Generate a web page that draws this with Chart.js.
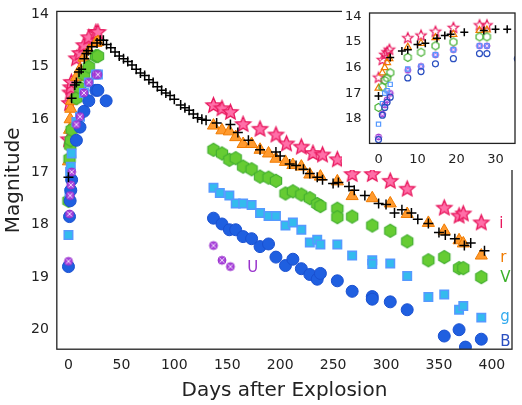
<!DOCTYPE html>
<html><head><meta charset="utf-8">
<script src="https://cdn.jsdelivr.net/npm/chart.js@4.4.1/dist/chart.umd.min.js"></script>
<style>body{margin:0;background:#fff}#w{position:relative;width:522px;height:405px}
#m{position:absolute;left:0;top:0;width:522px;height:405px}#ins{position:absolute;left:342px;top:0;width:180px;height:170px}</style></head>
<body><div id="w"><canvas id="m" width="522" height="405"></canvas><canvas id="ins" width="180" height="170"></canvas></div>
<script>
const iDays=[0,1,1.6,2.2,2.8,7.5,10.9,14.6,19.2,25.9,27.8,137,145,153,165,181,196,206,220,231,240,254,268,287,304,320,355,369,373,390];
const iMag=[16.39,15.7,15.5,15.4,15.3,14.85,14.75,14.6,14.45,14.35,14.35,15.74,15.8,15.87,16.1,16.19,16.3,16.47,16.53,16.65,16.68,16.77,17.05,17.05,17.18,17.33,17.69,17.84,17.8,17.97];
const rDays=[0,1,1.6,2.2,2.8,7.5,10.9,14.6,19.2,25.9,27.8,137,145,152,158,165,173,181,189,196,205,212,220,228,238,254,268,287,304,320,340,355,369,373,390];
const rMag=[16.8,16.2,16.0,15.8,15.65,15.2,15.05,14.83,14.7,14.55,14.53,16.12,16.21,16.23,16.34,16.47,16.47,16.58,16.65,16.75,16.81,16.87,16.9,17.05,17.09,17.18,17.46,17.5,17.6,17.8,17.97,18.12,18.3,18.36,18.59];
const vDays=[0,1,1.6,2.2,3,7.5,10.9,14.6,19.2,25.9,27.8,137,145,152,158,165,173,181,189,196,205,212,220,228,235,238,254,254,268,287,304,320,340,355,369,373,390];
const vMag=[17.55,16.75,16.5,16.4,16.2,15.6,15.4,15.15,15.0,14.8,14.8,16.58,16.65,16.77,16.74,16.9,16.95,17.09,17.11,17.17,17.41,17.37,17.43,17.5,17.61,17.65,17.7,17.86,17.85,18.02,18.12,18.32,18.68,18.62,18.83,18.83,19.0];
const gDays=[0,1,1.6,2.2,3,7.5,10.9,14.6,19.2,25.9,27.8,137,143,152,158,165,173,181,189,196,205,212,220,228,235,238,254,268,287,287,304,320,340,355,369,373,390];
const gMag=[18.2,17.4,17.0,16.9,16.65,16.05,15.95,15.5,15.3,15.15,15.15,17.3,17.4,17.45,17.6,17.6,17.63,17.78,17.84,17.84,18.02,17.96,18.1,18.34,18.29,18.38,18.38,18.59,18.68,18.75,18.74,18.98,19.38,19.33,19.62,19.55,19.77];
const bDays=[0,1,1.6,2.2,3,7.5,10.9,14.6,19.2,25.9,27.8,35.6,137,145,152,158,165,173,181,189,196,205,212,220,228,235,238,254,268,287,287,304,320,355,369,375,390];
const bMag=[18.8,17.85,17.55,17.35,17.15,16.4,16.15,15.85,15.65,15.45,15.45,15.65,17.88,17.99,18.1,18.1,18.23,18.27,18.42,18.37,18.62,18.78,18.66,18.84,18.95,19.04,18.93,19.07,19.27,19.37,19.42,19.47,19.62,20.12,20.0,20.33,20.18];
const uDays=[0,1,1.6,2.2,3,7.5,10.9,14.6,19.2,25.9,27.8,137,145,153];
const uMag=[18.7,17.8,17.45,17.25,17.0,16.1,15.95,15.5,15.3,15.15,15.15,18.4,18.68,18.8];
const cDays=[0,3,6,7.5,10,12,15,17,18.5,22,27,30,33,36,40,44,48,52,56,60,64,68,72,76,80,84,88,92,96,100,106,110,114,118,122,126,130,140,153,160,170,181,196,200,209,215,222,228,235,240,250,255,265,270,280,293,300,308,315,324,330,340,350,356,365,374,380,393];
const cMag=[17.1,15.6,15.35,15.3,15.1,15.05,14.85,14.75,14.7,14.62,14.55,14.5,14.5,14.58,14.64,14.72,14.8,14.85,14.9,14.97,15.05,15.12,15.17,15.25,15.3,15.38,15.45,15.5,15.55,15.62,15.73,15.78,15.83,15.9,15.97,16.0,16.02,16.07,16.1,16.25,16.4,16.58,16.62,16.7,16.85,16.88,16.95,17.03,17.1,17.15,17.22,17.2,17.28,17.35,17.45,17.6,17.62,17.78,17.72,17.78,17.9,17.98,18.15,18.2,18.27,18.4,18.35,18.5];
const xTicks=[0,50,100,150,200,250,300,350,400];
const yTicks=[14,15,16,17,18,19,20];
const insetXTicks=[0,10,20,30];
const insetYTicks=[14,15,16,17,18];
const bandLabels=[{t:'i',x:407,y:18.0,c:'#e8175d'},{t:'r',x:408,y:18.63,c:'#f07b00'},{t:'V',x:408,y:19.01,c:'#3cb02a'},{t:'g',x:408,y:19.76,c:'#33aaee'},{t:'B',x:408,y:20.23,c:'#2a4fc0'},{t:'U',x:169,y:18.83,c:'#9933cc'}];

function mk(shape,r,fill,stroke,lw){
  const s=Math.ceil(r*2+lw*2+2),c=document.createElement('canvas');c.width=c.height=s;
  const x=c.getContext('2d'),cx=s/2;x.beginPath();
  if(shape==='star'){for(let k=0;k<10;k++){const a=-Math.PI/2+k*Math.PI/5,rr=k%2?r*0.45:r;x.lineTo(cx+rr*Math.cos(a),cx+rr*Math.sin(a));}}
  else if(shape==='hex'){for(let k=0;k<6;k++){const a=Math.PI/2+k*Math.PI/3;x.lineTo(cx+r*Math.cos(a),cx+r*Math.sin(a));}}
  else if(shape==='u'){x.arc(cx,cx,r,0,Math.PI*2);}
  x.closePath();
  if(fill){x.fillStyle=fill;x.fill();}
  x.lineWidth=lw;x.strokeStyle=stroke;x.stroke();
  if(shape==='u'){x.strokeStyle='rgba(255,255,255,0.8)';x.lineWidth=1;x.beginPath();x.moveTo(cx-r*.6,cx-r*.6);x.lineTo(cx+r*.6,cx+r*.6);x.moveTo(cx+r*.6,cx-r*.6);x.lineTo(cx-r*.6,cx+r*.6);x.stroke();}
  return c;
}
const pts=(d,m,f)=>d.map((v,k)=>({x:v,y:m[k]})).filter(p=>f(p.x));
const boxPlugin={id:'box',afterDraw(ch){const a=ch.chartArea,x=ch.ctx;x.save();x.strokeStyle='#222';x.lineWidth=1.3;x.strokeRect(a.left,a.top,a.right-a.left,a.bottom-a.top);x.restore();}};
const labelPlugin={id:'lbl',afterDatasetsDraw(ch){const x=ch.ctx;x.save();x.font='15px "DejaVu Sans"';x.textBaseline='middle';
  bandLabels.forEach(l=>{x.fillStyle=l.c;x.fillText(l.t,ch.scales.x.getPixelForValue(l.x),ch.scales.y.getPixelForValue(l.y));});x.restore();}};

function sets(inset,f){
  const def=(lab,d,m,style,extra)=>Object.assign({label:lab,data:pts(d,m,f),pointStyle:style,showLine:false},extra);
  if(!inset) return [
    def('c',cDays,cMag,'cross',{pointRadius:5,borderColor:'#000',borderWidth:1.5}),
    def('U',uDays,uMag,mk('u',4,'#aa44dd','#9933cc',1)),
    def('B',bDays,bMag,'circle',{pointRadius:6,backgroundColor:'#1f5fe0',borderColor:'#1a50d0',borderWidth:1}),
    def('g',gDays,gMag,'rect',{pointRadius:6,backgroundColor:'#33bbee',borderColor:'#5599ff',borderWidth:1.5}),
    def('V',vDays,vMag,mk('hex',6.5,'#66cc33','#44b030',1.2)),
    def('r',rDays,rMag,'triangle',{pointRadius:7,backgroundColor:'#ff9a2e',borderColor:'#f07b00',borderWidth:1}),
    def('i',iDays,iMag,mk('star',8,'#ff6fa8','#e8175d',1.3)),
  ];
  return [
    def('c',cDays,cMag,'cross',{pointRadius:4,borderColor:'#000',borderWidth:1.5}),
    def('B',bDays,bMag,'circle',{pointRadius:3,backgroundColor:'transparent',borderColor:'#2a4fc0',borderWidth:1.2}),
    def('g',gDays,gMag,'rect',{pointRadius:3,backgroundColor:'transparent',borderColor:'#5599ff',borderWidth:1.2}),
    def('U',uDays,uMag,mk('u',3,'#bb66ee','#9933cc',1)),
    def('V',vDays,vMag,mk('hex',4,null,'#44b030',1.2)),
    def('r',rDays,rMag,'triangle',{pointRadius:4,backgroundColor:'transparent',borderColor:'#f07b00',borderWidth:1.2}),
    def('i',iDays,iMag,mk('star',5.5,null,'#e8175d',1.2)),
  ];
}
Chart.defaults.font.family='"DejaVu Sans"';Chart.defaults.color='#222';
const axis=(min,max,ticks,fs,title,rev)=>({type:'linear',min,max,reverse:!!rev,
  afterBuildTicks:s=>{s.ticks=ticks.map(v=>({value:v}));},
  ticks:{font:{size:fs},color:'#222',padding:3,autoSkip:false,maxRotation:0},
  grid:{display:false,drawTicks:true,tickLength:5,tickColor:'#222'},border:{display:false},
  title:title?{display:true,text:title,font:{size:20},color:'#222',padding:2}:{display:false}});
new Chart(document.getElementById('m'),{type:'scatter',data:{datasets:sets(false,()=>true)},
  options:{responsive:false,maintainAspectRatio:false,animation:false,events:[],layout:{padding:{top:0,right:10}},
    plugins:{legend:{display:false},tooltip:{enabled:false}},
    scales:{x:axis(-11,419,xTicks,14,'Days after Explosion'),y:axis(13.95,20.37,yTicks,14,'Magnitude',true)}},
  plugins:[boxPlugin,labelPlugin]});
new Chart(document.getElementById('ins'),{type:'scatter',data:{datasets:sets(true,d=>d<=36)},
  options:{responsive:false,maintainAspectRatio:false,animation:false,events:[],layout:{padding:{top:13,right:7}},
    plugins:{legend:{display:false},tooltip:{enabled:false}},
    scales:{x:axis(-2.3,35,insetXTicks,13),y:axis(13.87,18.95,insetYTicks,13,null,true)}},
  plugins:[{id:'bg',beforeDraw(ch){const x=ch.ctx;x.save();x.fillStyle='#fff';x.fillRect(0,0,ch.width,ch.height);x.restore();}},boxPlugin]});
</script></body></html>
